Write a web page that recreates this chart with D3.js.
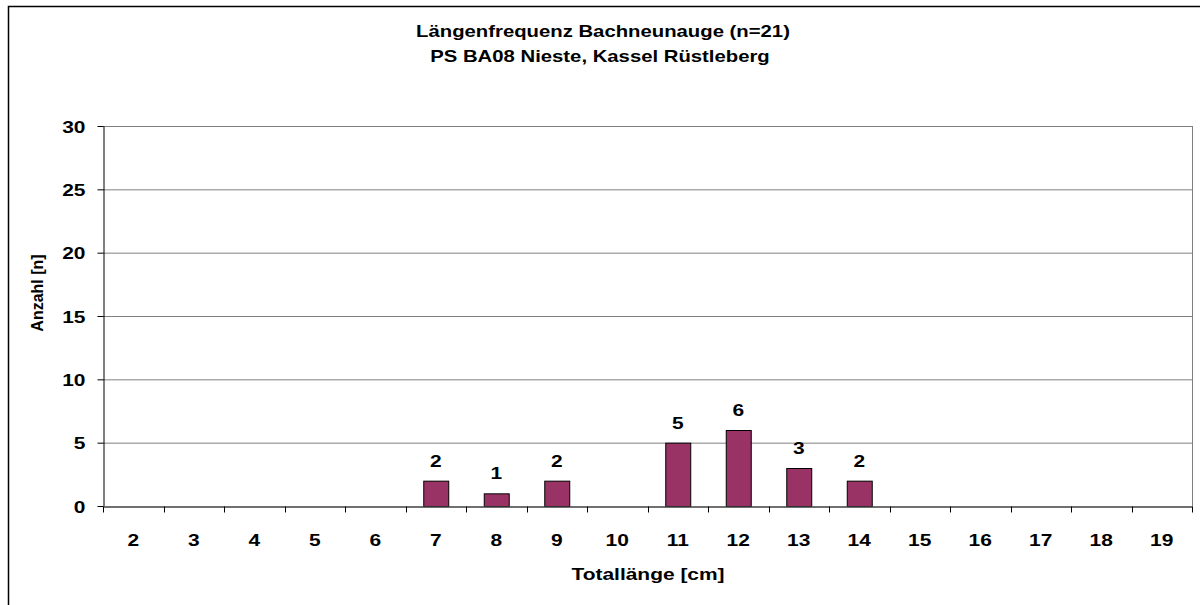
<!DOCTYPE html>
<html>
<head>
<meta charset="utf-8">
<script src="https://cdn.jsdelivr.net/npm/d3@7"></script>
<style>
  body { margin: 0; background: #fff; }
  text { font-family: "Liberation Sans", Arial, sans-serif; font-weight: bold; }
</style>
</head>
<body>
<script>
// chart data
const categories = ['2', '3', '4', '5', '6', '7', '8', '9', '10', '11', '12', '13', '14', '15', '16', '17', '18', '19'];
const counts = [null, null, null, null, null, 2, 1, 2, null, 5, 6, 3, 2, null, null, null, null, null];
const yTicks = [0, 5, 10, 15, 20, 25, 30];
const titleLines = ['Längenfrequenz Bachneunauge (n=21)', 'PS BA08 Nieste, Kassel Rüstleberg'];
const xTitle = 'Totallänge [cm]';
const yTitle = 'Anzahl [n]';

const data = categories.map((c, i) => ({ cat: c, value: counts[i] }));

// the picture is stretched sideways, so the text is too
const stretch = 1.27;

const plot = { left: 103, right: 1192, top: 126, bottom: 506 };

const svg = d3.select('body').append('svg')
  .attr('width', 1200)
  .attr('height', 605);

// outer frame (runs off the right and bottom edge)
svg.append('rect')
  .attr('x', 8.5)
  .attr('y', 6.5)
  .attr('width', 1250)
  .attr('height', 700)
  .attr('fill', '#fff')
  .attr('stroke', '#000')
  .attr('stroke-width', 1.5);

// set the ranges
const x = d3.scaleBand()
  .domain(categories)
  .range([plot.left, plot.right])
  .paddingInner(0.587)
  .paddingOuter(0.587 / 2);

const y = d3.scaleLinear()
  .domain([0, 30])
  .range([plot.bottom, plot.top]);

// gridlines
svg.append('g')
  .selectAll('line')
  .data(yTicks.filter(d => d > 0))
  .enter().append('line')
  .attr('x1', plot.left)
  .attr('x2', plot.right)
  .attr('y1', d => y(d) + 0.5)
  .attr('y2', d => y(d) + 0.5)
  .attr('stroke', '#808080')
  .attr('stroke-width', 1);

// right border of the plot area
svg.append('line')
  .attr('x1', plot.right + 0.5)
  .attr('x2', plot.right + 0.5)
  .attr('y1', plot.top)
  .attr('y2', plot.bottom)
  .attr('stroke', '#808080');

// bars
svg.selectAll('.bar')
  .data(data.filter(d => d.value !== null))
  .enter().append('rect')
  .attr('class', 'bar')
  .attr('x', d => x(d.cat) + 0.5)
  .attr('width', x.bandwidth())
  .attr('y', d => y(d.value) + 0.5)
  .attr('height', d => y(0) - y(d.value))
  .attr('fill', '#993366')
  .attr('stroke', '#000')
  .attr('stroke-width', 1);

// stretched text helper
function label(g, tx, ty, str, size, anchor) {
  return g.append('text')
    .attr('transform', `translate(${tx},${ty}) scale(${stretch},1)`)
    .attr('text-anchor', anchor || 'middle')
    .style('font-size', `${size}px`)
    .text(str);
}

// value labels
data.filter(d => d.value !== null).forEach((d) => {
  label(svg, x(d.cat) + x.bandwidth() / 2, y(d.value) - 14, d.value, 16.5);
});

// y axis
const yAxis = svg.append('g')
  .attr('transform', `translate(${plot.left + 0.5},0)`)
  .call(d3.axisLeft(y).tickValues(yTicks).tickSize(6).tickSizeOuter(0));
yAxis.select('.domain').attr('stroke', '#000');
yAxis.selectAll('.tick line').attr('stroke', '#000');
yAxis.selectAll('.tick text')
  .attr('x', null)
  .attr('dy', null)
  .attr('y', 6)
  .attr('transform', `translate(-18,0) scale(${stretch},1)`)
  .attr('fill', '#000')
  .style('font-size', '16.5px');

// x axis: labels centred in the bands, ticks between categories
const xAxis = svg.append('g')
  .attr('transform', `translate(0,${plot.bottom + 0.5})`)
  .call(d3.axisBottom(x).tickSize(0).tickSizeOuter(0));
xAxis.select('.domain').attr('stroke', '#404040').attr('stroke-width', 1.5);
xAxis.selectAll('.tick text')
  .attr('y', null)
  .attr('dy', null)
  .attr('transform', `translate(0,39) scale(${stretch},1)`)
  .attr('fill', '#000')
  .style('font-size', '16.5px');

xAxis.selectAll('.sep')
  .data(categories.concat(['end']))
  .enter().append('line')
  .attr('class', 'sep')
  .attr('x1', (d, i) => Math.round(plot.left + i * x.step()) + 0.5)
  .attr('x2', (d, i) => Math.round(plot.left + i * x.step()) + 0.5)
  .attr('y1', 0)
  .attr('y2', 6)
  .attr('stroke', '#000');

// titles
label(svg, 603, 37, titleLines[0], 16);
label(svg, 600, 62, titleLines[1], 16);
label(svg, 648, 580, xTitle, 16.5);

svg.append('text')
  .attr('transform', 'translate(43,293) rotate(-90)')
  .attr('text-anchor', 'middle')
  .style('font-size', '16px')
  .text(yTitle);
</script>
</body>
</html>
